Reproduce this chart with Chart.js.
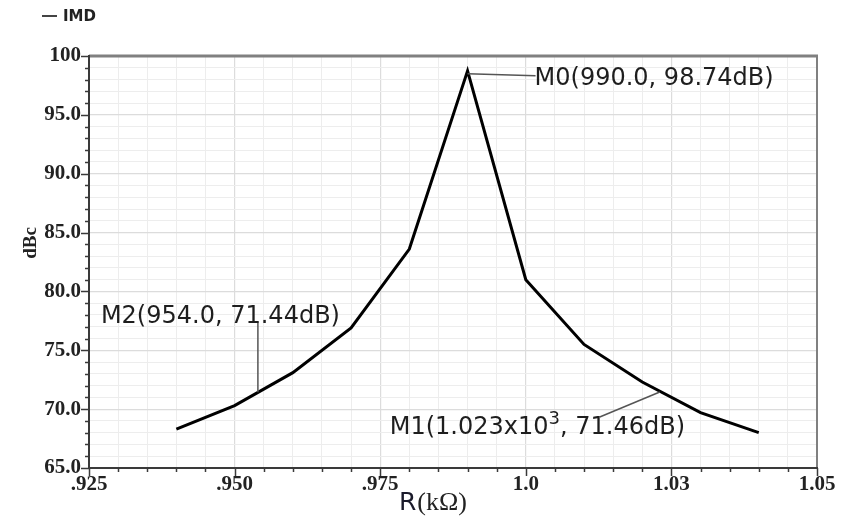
<!DOCTYPE html>
<html>
<head>
<meta charset="utf-8">
<script src="https://cdn.jsdelivr.net/npm/chart.js@4/dist/chart.umd.min.js"></script>
<style>
html,body{margin:0;padding:0;background:#fff;}
#wrap{width:846px;height:521px;position:relative;}
</style>
</head>
<body>
<div id="wrap"><canvas id="c" width="846" height="521"></canvas></div>
<script>
// ---- data ----
const seriesName = 'IMD';
const rValues = [0.94, 0.95, 0.96, 0.97, 0.98, 0.99, 1.00, 1.01, 1.02, 1.03, 1.04];
const imdValues = [68.3, 70.3, 73.1, 76.9, 83.6, 98.74, 81.0, 75.5, 72.3, 69.7, 68.0];
const xTickLabels = ['.925', '.950', '.975', '1.0', '1.03', '1.05'];
const yTickLabels = ['65.0', '70.0', '75.0', '80.0', '85.0', '90.0', '95.0', '100'];
const markerX = [0.990, 1.023, 0.954];
const markerY = [98.74, 71.46, 71.44];
const markerText = ['M0(990.0, 98.74dB)', 'M1(1.023x10|3|, 71.46dB)', 'M2(954.0, 71.44dB)'];
const xTitle = ['R', '(kΩ)'];
const yTitle = 'dBc';

const CA = {left: 89, right: 817, top: 56, bottom: 468};

const decor = {
  id: 'decor',
  afterDraw(chart) {
    const ctx = chart.ctx;
    const xs = chart.scales.x, ys = chart.scales.y;
    const a = chart.chartArea;
    ctx.save();
    // frame top & right
    ctx.strokeStyle = '#808080';
    ctx.lineWidth = 3;
    ctx.beginPath(); ctx.moveTo(a.left, a.top); ctx.lineTo(a.right + 1, a.top); ctx.stroke();
    ctx.lineWidth = 2;
    ctx.beginPath(); ctx.moveTo(a.right, a.top); ctx.lineTo(a.right, a.bottom); ctx.stroke();
    // axes lines
    ctx.strokeStyle = '#3a3a3a';
    ctx.lineWidth = 2;
    ctx.beginPath(); ctx.moveTo(a.left, a.top - 1); ctx.lineTo(a.left, a.bottom + 1); ctx.stroke();
    ctx.beginPath(); ctx.moveTo(a.left - 1, a.bottom); ctx.lineTo(a.right + 1, a.bottom); ctx.stroke();
    // tick marks
    ctx.lineWidth = 1.5;
    ys.ticks.forEach((t, i) => {
      const y = Math.round(ys.getPixelForValue(t.value)) + 0.5;
      const len = (i % 5 === 0) ? 8 : 4;
      ctx.beginPath(); ctx.moveTo(a.left - len, y); ctx.lineTo(a.left, y); ctx.stroke();
    });
    xs.ticks.forEach((t, i) => {
      const x = Math.round(xs.getPixelForValue(t.value)) + 0.5;
      const len = (i % 5 === 0) ? 8 : 4;
      ctx.beginPath(); ctx.moveTo(x, a.bottom); ctx.lineTo(x, a.bottom + len); ctx.stroke();
    });
    // legend
    ctx.strokeStyle = '#444';
    ctx.lineWidth = 2;
    ctx.beginPath(); ctx.moveTo(42, 16); ctx.lineTo(57, 16); ctx.stroke();
    ctx.fillStyle = '#222';
    ctx.font = 'bold 15px "DejaVu Sans"';
    ctx.textBaseline = 'middle';
    ctx.textAlign = 'left';
    ctx.fillText(seriesName, 63, 17);
    // y title
    ctx.save();
    ctx.translate(31, 243);
    ctx.rotate(-Math.PI / 2);
    ctx.font = 'bold 19px "Liberation Serif"';
    ctx.textAlign = 'center';
    ctx.textBaseline = 'middle';
    ctx.fillText(yTitle, 0, 0);
    ctx.restore();
    // x title
    ctx.textBaseline = 'alphabetic';
    ctx.font = '25px "DejaVu Sans"';
    const w1 = ctx.measureText(xTitle[0]).width;
    ctx.font = '26px "Liberation Serif"';
    const w2 = ctx.measureText(xTitle[1]).width;
    let sx = 433 - (w1 + w2 + 1) / 2;
    ctx.fillStyle = '#1a1a2a';
    ctx.font = '25px "DejaVu Sans"';
    ctx.fillText(xTitle[0], sx, 510);
    ctx.fillStyle = '#222';
    ctx.font = '26px "Liberation Serif"';
    ctx.fillText(xTitle[1], sx + w1 + 1, 510);

    // markers
    const pts = markerX.map((v, i) => ({x: xs.getPixelForValue(v), y: ys.getPixelForValue(markerY[i])}));
    ctx.strokeStyle = '#555';
    ctx.lineWidth = 1.5;
    // M0: horizontal leader
    ctx.beginPath(); ctx.moveTo(pts[0].x, pts[0].y + 3); ctx.lineTo(pts[0].x + 68, pts[0].y + 5); ctx.stroke();
    // M1: diagonal leader
    ctx.beginPath(); ctx.moveTo(pts[1].x, pts[1].y); ctx.lineTo(pts[1].x - 60, pts[1].y + 25); ctx.stroke();
    // M2: vertical leader
    ctx.beginPath(); ctx.moveTo(pts[2].x, pts[2].y); ctx.lineTo(pts[2].x, pts[2].y - 71); ctx.stroke();

    ctx.fillStyle = '#1e1e1e';
    ctx.textBaseline = 'middle';
    ctx.textAlign = 'left';
    const font = '24px "DejaVu Sans"';
    const drawRich = (txt, x, y) => {
      const parts = txt.split('|');
      let cx = x;
      parts.forEach((p, k) => {
        if (k % 2 === 1) {
          ctx.font = '18px "DejaVu Sans"';
          ctx.fillText(p, cx, y - 9);
        } else {
          ctx.font = font;
          ctx.fillText(p, cx, y);
        }
        cx += ctx.measureText(p).width;
      });
    };
    drawRich(markerText[0], pts[0].x + 67, pts[0].y + 8);
    drawRich(markerText[1], pts[1].x - 270, pts[1].y + 36);
    drawRich(markerText[2], pts[2].x - 157, pts[2].y - 75);
    ctx.restore();
  }
};

new Chart(document.getElementById('c'), {
  type: 'line',
  data: {
    datasets: [{
      label: seriesName,
      data: rValues.map((r, i) => ({x: r, y: imdValues[i]})),
      borderColor: '#000',
      borderWidth: 3,
      pointRadius: 0,
      tension: 0,
      fill: false
    }]
  },
  options: {
    responsive: false,
    animation: false,
    devicePixelRatio: 1,
    layout: {padding: {left: 0, right: 846 - CA.right, top: CA.top, bottom: 0}},
    plugins: {legend: {display: false}, tooltip: {enabled: false}},
    scales: {
      x: {
        type: 'linear',
        min: 0.925, max: 1.05,
        afterBuildTicks(scale) {
          const t = [];
          for (let i = 0; i <= 25; i++) t.push({value: +(0.925 + i * 0.005).toFixed(3)});
          scale.ticks = t;
        },
        afterFit(scale) { scale.height = 521 - CA.bottom; },
        grid: {
          drawTicks: false,
          color: (c) => (c.index % 5 === 0 ? '#dcdcdc' : '#ededed'),
          lineWidth: (c) => (c.index % 5 === 0 ? 1.2 : 1)
        },
        border: {display: false},
        ticks: {
          autoSkip: false,
          maxRotation: 0,
          padding: 4,
          color: '#222',
          font: {family: 'Liberation Serif', size: 21, weight: 'bold'},
          callback: (v, i) => (i % 5 === 0 ? xTickLabels[i / 5] : '')
        }
      },
      y: {
        type: 'linear',
        min: 65, max: 100,
        afterBuildTicks(scale) {
          const t = [];
          for (let i = 0; i <= 35; i++) t.push({value: 65 + i});
          scale.ticks = t;
        },
        afterFit(scale) { scale.width = CA.left; },
        grid: {
          drawTicks: false,
          color: (c) => (c.index % 5 === 0 ? '#dcdcdc' : '#ededed'),
          lineWidth: (c) => (c.index % 5 === 0 ? 1.2 : 1)
        },
        border: {display: false},
        ticks: {
          autoSkip: false,
          padding: 8,
          color: '#222',
          font: {family: 'Liberation Serif', size: 21, weight: 'bold'},
          callback: (v, i) => (i % 5 === 0 ? yTickLabels[i / 5] : '')
        }
      }
    }
  },
  plugins: [decor]
});
</script>
</body>
</html>
